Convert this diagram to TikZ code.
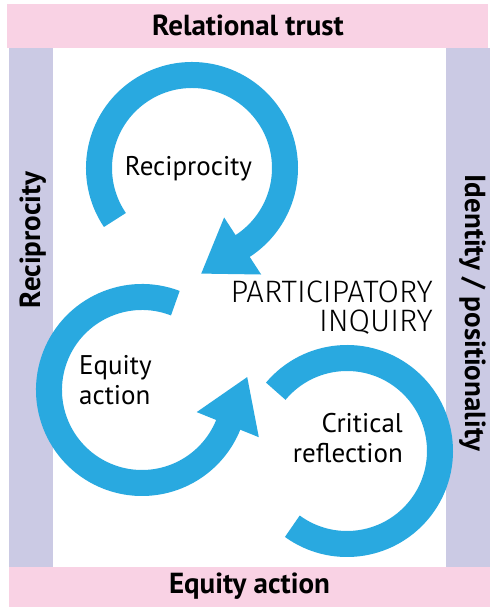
\documentclass[tikz,border=0pt]{standalone}
\usepackage{fontspec}
\setmainfont{PT Sans}
\newfontfamily\thinfont{Fira Sans Light}
\usetikzlibrary{positioning}

\definecolor{barpink}{HTML}{F9D2E4}
\definecolor{barlilac}{HTML}{CBCAE4}
\definecolor{loopblue}{HTML}{29A9E0}

\begin{document}
\begin{tikzpicture}
	[x=1pt,y=1pt,
	band/.style={draw=loopblue,line width=26pt},
	head/.style={fill=loopblue},
	barlabel/.style={font=\bfseries\fontsize{29}{29}\selectfont,inner sep=0pt,text height=19pt,text depth=0pt},
	looplabel/.style={font=\fontsize{27}{30}\selectfont,inner sep=0pt},
	inquiry/.style={font=\thinfont\fontsize{31}{29}\selectfont,inner sep=0pt,align=right}]

	\path[use as bounding box,fill=white] (0,0) rectangle (500,611);

	% frame
	\fill[barpink]  (7,563) rectangle (488,607);
	\fill[barpink]  (9,4) rectangle (490,44);
	\fill[barlilac] (9,44) rectangle (53,563);
	\fill[barlilac] (446,44) rectangle (490,563);

	\coordinate (c1) at (192,443);
	\coordinate (c2) at (142,221);
	\coordinate (c3) at (347,160);

	% reciprocity loop
	\draw[band] (c1) ++(214:93) arc[start angle=214,end angle=-59,radius=93];
	\begin{scope}[shift={(c1)}]
		\fill[head] (-57:59) -- (-57:127) -- (-85:106) -- cycle;
	\end{scope}

	% equity action loop
	\draw[band] (c2) ++(69:93) arc[start angle=69,end angle=340,radius=93];
	\begin{scope}[shift={(c2)}]
		\fill[head] (-22:59) -- (-22:126) -- (7:106) -- cycle;
	\end{scope}

	% critical reflection loop
	\draw[band] (c3) ++(140:93) arc[start angle=140,end angle=-126,radius=93];

	% base anchors sit on the last line
	\node[looplabel,anchor=base] (rec) at (188.5,435) {Reciprocity};
	\node[looplabel,anchor=base west,align=left] (eq) at (79,206) {Equity\\action};
	\node[looplabel,anchor=base east,align=right] (crit) at (403,148) {Critical\\reflection};
	\node[inquiry,anchor=base east] (pi) at (433,279) {PARTICIPATORY\\INQUIRY};

	\node[barlabel] (trust) at (248,585) {Relational trust};
	\node[barlabel] (act) at (249.5,27) {Equity action};
	\node[barlabel,rotate=90] (recip) at (30.5,371) {Reciprocity};
	\node[barlabel,rotate=-90] (ident) at (474.5,298) {Identity / positionality};
\end{tikzpicture}
\end{document}
